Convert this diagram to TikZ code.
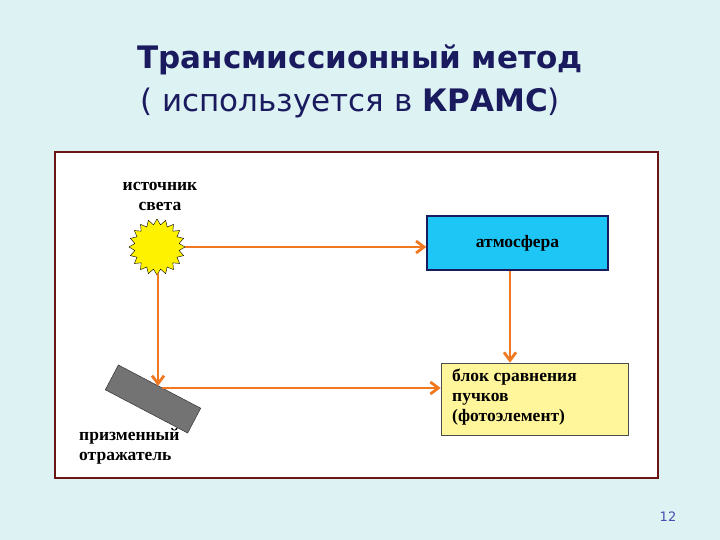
\documentclass[tikz,border=0pt]{standalone}
\usepackage{fontspec}
\setmainfont{DejaVu Sans}
\newfontfamily\serifb{Liberation Serif}
\usetikzlibrary{shapes.geometric,arrows.meta}
\definecolor{bgc}{HTML}{DDF3F3}
\definecolor{navy}{HTML}{1A1A5E}
\definecolor{frame}{HTML}{6B1515}
\definecolor{beam}{HTML}{F07820}
\definecolor{atm}{HTML}{1EC6F5}
\definecolor{ylw}{HTML}{FFF59A}
\tikzset{
 lbl/.style={font=\serifb\bfseries\fontsize{17.5}{20}\selectfont, align=center, inner sep=0pt},
 box/.style={draw=navy, line width=1.2pt, inner sep=0pt},
 ray/.style={beam, line width=2.8pt, -{Straight Barb[length=8pt,width=12pt]}}
}
\begin{document}
\begin{tikzpicture}[x=1pt,y=-1pt]
\fill[bgc] (0,0) rectangle (720,540);
\useasboundingbox (0,0) rectangle (720,540);
\node[font=\bfseries\fontsize{31}{31}\selectfont, text=navy] (t1) at (360,60) {Трансмиссионный метод};
\node[font=\fontsize{31}{31}\selectfont, text=navy] (t2) at (350,103) {( используется в \textbf{КРАМС})};
\draw[frame, line width=2.5pt, fill=white] (55,152) rectangle (658,478);
\node[lbl] (sl) at (160,196) {источник\\света};
\node[star, star points=20, star point ratio=1.25, fill=yellow, draw=black, line width=0.4pt, minimum size=56pt, inner sep=0pt] (sun) at (157,247) {};
\node[box, fill=atm, minimum width=181pt, minimum height=54pt] (atm) at (517.5,243) {\serifb\bfseries\fontsize{17.5}{17.5}\selectfont атмосфера};
\node[draw=black!70, line width=0.6pt, fill=ylw, minimum width=187pt, minimum height=72pt, inner sep=0pt] (cmp) at (534.5,399) {};
\node[lbl, align=left, anchor=north west] (cmpt) at (452,369) {блок сравнения\\пучков\\(фотоэлемент)};
\node[draw=black!80, fill=gray!90!black, line width=0.5pt, minimum width=93pt, minimum height=28pt, rotate=-27.7, inner sep=0pt] (pr) at (153,399) {};
\node[lbl, align=left, anchor=north west] (prl) at (79,428) {призменный\\отражатель};
\coordinate (p1) at (158,386);
\coordinate (p2) at (162,388);
\draw[ray] (sun.east |- 0,247) -- (atm.west |- 0,247);
\draw[ray] (158,273) -- (p1);
\draw[ray] (p2) -- (cmp.west |- 0,388);
\draw[ray] (atm.south -| 510,0) -- (cmp.north -| 510,0);
\node[text=gray!60!blue, font=\fontsize{13}{13}\selectfont] (pg) at (668,517) {12};
\end{tikzpicture}
\end{document}
